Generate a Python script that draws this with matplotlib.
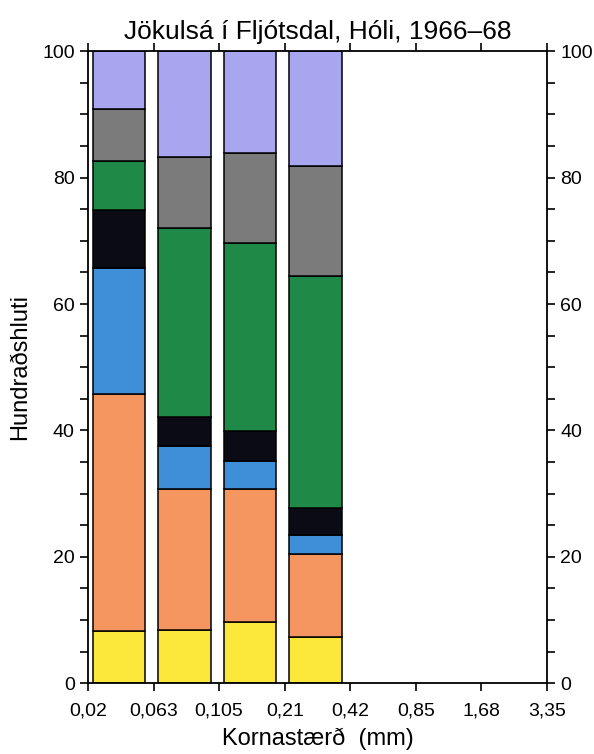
import numpy as np
import matplotlib
matplotlib.use('Agg')
import matplotlib.pyplot as plt
from matplotlib.ticker import MultipleLocator

plt.rcParams['font.family'] = ['Liberation Sans', 'DejaVu Sans']

# --- Data (percent of each fraction per grain-size class) ---
size_labels = ['0,02', '0,063', '0,105', '0,21', '0,42', '0,85', '1,68', '3,35']
yellow = [8.3, 8.4, 9.6, 7.3]
orange = [37.4, 22.4, 21.1, 13.1]
blue = [20.0, 6.8, 4.5, 3.1]
black = [9.2, 4.5, 4.7, 4.2]
green = [7.7, 30.0, 29.8, 36.8]
gray = [8.3, 11.2, 14.2, 17.3]
purple = [9.1, 16.7, 16.1, 18.2]

layers = [yellow, orange, blue, black, green, gray, purple]
colors = ['#fbe83a', '#f59660', '#3f8fd8', '#0b0b16', '#1f8a48', '#7b7b7b', '#a7a6ee']

# --- Plot ---
fig = plt.figure(figsize=(5.94, 7.54), dpi=100)
ax = fig.add_axes([0.148, 0.094, 0.773, 0.838])

x = np.arange(len(yellow))
bottom = np.zeros(len(yellow))
for vals, c in zip(layers, colors):
    ax.bar(x + 0.07, vals, width=0.8, bottom=bottom, align='edge',
           color=c, edgecolor='black', linewidth=1.1)
    bottom += np.array(vals)

ax.set_xlim(0, len(size_labels) - 1)
ax.set_ylim(0, 100)
ax.set_xticks(np.arange(len(size_labels)))
ax.set_xticklabels(size_labels)
ax.yaxis.set_major_locator(MultipleLocator(20))
ax.yaxis.set_minor_locator(MultipleLocator(5))

ax.tick_params(axis='both', which='both', direction='out', labelsize=14,
               width=1.2, length=6, top=True, right=True, labelright=True)
ax.tick_params(axis='x', pad=8)
for s in ax.spines.values():
    s.set_linewidth(1.3)

ax.set_title('Jökulsá í Fljótsdal, Hóli, 1966–68', fontsize=19, pad=9)
ax.set_xlabel('Kornastærð  (mm)', fontsize=17, labelpad=6)
ax.set_ylabel('Hundraðshluti', fontsize=17, labelpad=8)

fig.savefig('out.png', dpi=100)
